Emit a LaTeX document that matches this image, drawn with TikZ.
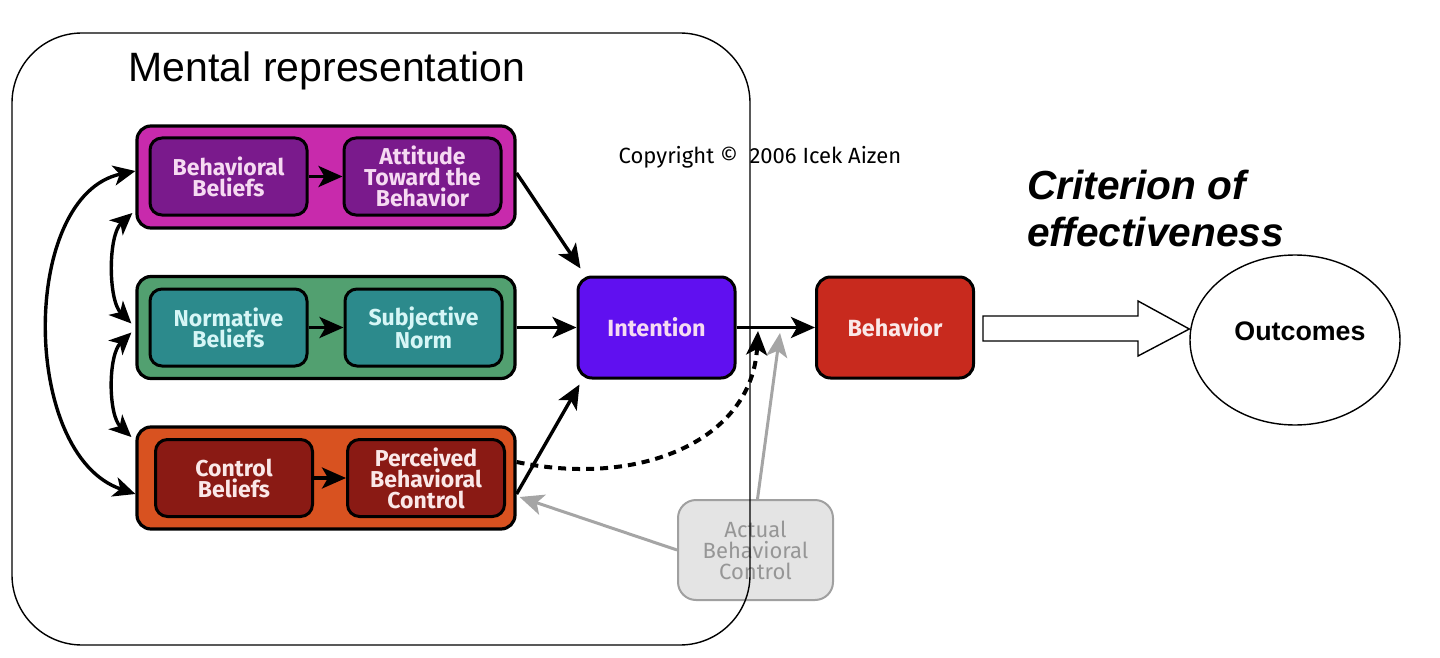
\documentclass[tikz,border=0pt]{standalone}
\usepackage{fontspec}
\setmainfont{Liberation Sans}
\newfontfamily\comic{Fira Sans}
\usetikzlibrary{arrows.meta,shapes.geometric}
\definecolor{grpA}{RGB}{200,42,172}
\definecolor{inA}{RGB}{122,26,140}
\definecolor{txA}{RGB}{246,218,242}
\definecolor{grpB}{RGB}{82,160,112}
\definecolor{inB}{RGB}{44,138,140}
\definecolor{txB}{RGB}{214,246,246}
\definecolor{grpC}{RGB}{216,82,32}
\definecolor{inC}{RGB}{138,26,20}
\definecolor{txC}{RGB}{250,232,232}
\definecolor{intc}{RGB}{96,16,240}
\definecolor{behc}{RGB}{200,42,30}
\definecolor{abcfill}{RGB}{228,228,228}
\definecolor{abcdraw}{RGB}{160,160,160}
\definecolor{abctext}{RGB}{150,150,150}
\definecolor{grayarr}{RGB}{165,165,165}
\tikzset{
  grp/.style={draw=black, line width=1.6pt, rounded corners=7pt, minimum width=189pt, minimum height=51pt, inner sep=0pt},
  inbox/.style={draw=black, line width=1.5pt, rounded corners=6pt, minimum width=78.5pt, minimum height=38.5pt, inner sep=0pt, align=center, font=\comic\bfseries\fontsize{11.5}{10.5}\selectfont},
  bigbox/.style={draw=black, line width=1.5pt, rounded corners=7pt, minimum width=78.5pt, minimum height=50.5pt, inner sep=0pt, align=center, font=\comic\bfseries\fontsize{11.7}{12}\selectfont},
  tip/.style={Stealth[length=12pt,width=10.5pt,inset=3pt]},
  arr/.style={-{Stealth[length=12pt,width=10.5pt,inset=3pt]}, line width=1.7pt},
  darr/.style={{Stealth[length=11pt,width=10pt,inset=3pt]}-{Stealth[length=11pt,width=10pt,inset=3pt]}, line width=1.7pt},
  garr/.style={-{Stealth[length=12pt,width=10.5pt,inset=3pt]}, line width=1.5pt, draw=grayarr}
}
\begin{document}
\begin{tikzpicture}[x=0.5pt,y=-0.5pt]
\useasboundingbox (0,0) rectangle (1440,658);

% group boxes
\node[grp, fill=grpA] (ga) at (326,177) {};
\node[grp, fill=grpB] (gb) at (326,327.5) {};
\node[grp, fill=grpC] (gc) at (326,478) {};

% inner boxes
\node[inbox, fill=inA, text=txA] (bb) at (228.5,176.5) {Behavioral\\Beliefs};
\node[inbox, fill=inA, text=txA] (atb) at (422.5,176.5) {Attitude\\Toward the\\Behavior};
\node[inbox, fill=inB, text=txB] (nb) at (228.5,327.5) {Normative\\Beliefs};
\node[inbox, fill=inB, text=txB] (sn) at (423.5,327.5) {Subjective\\Norm};
\node[inbox, fill=inC, text=txC] (cb) at (234,478) {Control\\Beliefs};
\node[inbox, fill=inC, text=txC] (pbc) at (426,478) {Perceived\\Behavioral\\Control};

% intention, behavior
\node[bigbox, fill=intc, text=txA] (int) at (656.5,327.5) {Intention};
\node[bigbox, fill=behc, text=txC] (beh) at (895,327.5) {Behavior};

% actual behavioral control
\node[draw=abcdraw, fill=abcfill, line width=1pt, rounded corners=9pt, minimum width=77.5pt, minimum height=50pt, inner sep=0pt, align=center, text=abctext, font=\comic\fontsize{11}{10.5}\selectfont] (abc) at (755.5,550) {Actual\\Behavioral\\Control};

% outcomes
\node[draw=black, line width=0.7pt, ellipse, minimum width=105pt, minimum height=85pt, inner sep=0pt] (out) at (1295,340) {};
\node[font=\bfseries\fontsize{13.4}{14}\selectfont] (outtxt) at (1300,331) {Outcomes};

% hollow arrow
\draw[line width=0.7pt, fill=white] (983,316) -- (1138,316) -- (1138,301) -- (out.west |- 0,329) -- (1138,356) -- (1138,341) -- (983,341) -- cycle;

% texts
\node[font=\fontsize{20.5}{24}\selectfont] (title) at (327,71) {Mental representation};
\node[anchor=west, align=left, font=\bfseries\itshape\fontsize{20.3}{23.5}\selectfont, inner sep=0pt] (crit) at (1027,208) {Criterion of\\effectiveness};
\node[font=\comic\fontsize{11}{12}\selectfont] (copy) at (760,157) {Copyright \textcopyright\ \ 2006 Icek Aizen};

% inner arrows
\draw[arr] (bb.east) -- (atb.west);
\draw[arr] (nb.east) -- (sn.west);
\draw[arr] (cb.east) -- (pbc.west);

% to intention
\draw[arr] ([yshift=2]ga.east) -- ([shift={(4,-7)}]int.north west);
\draw[arr] (gb.east) -- (int.west);
\draw[arr] ([yshift=-8]gc.east) -- ([shift={(3,5)}]int.south west);
\draw[arr] (int.east) -- (beh.west);

% left curved double arrows
\draw[darr] ([yshift=3]ga.west) .. controls (20,195) and (20,455) .. ([yshift=-8]gc.west);
\draw[darr] ([shift={(-3,36)}]ga.west) .. controls (108,235) and (108,300) .. ([shift={(-4,-4)}]gb.west);
\draw[darr] ([shift={(-4,5)}]gb.west) .. controls (108,355) and (108,415) .. ([shift={(-4,-41)}]gc.west);

% dashed
\coordinate (dtip) at (758,331);
\draw[arr, line width=2pt, dash pattern=on 4pt off 3pt] ([yshift=8]gc.east) .. controls (640,488) and (752,440) .. (dtip);

% gray arrows
\coordinate (gtip) at (780,333);
\draw[garr] ([xshift=1]abc.north) -- (gtip);
\draw[garr] (abc.west) -- ([shift={(3,19)}]gc.east);

% mental box (drawn on top)
\node[draw=black, line width=0.7pt, rounded corners=35pt, minimum width=369pt, minimum height=306pt, inner sep=0pt] (mental) at (381,339) {};
\end{tikzpicture}
\end{document}
